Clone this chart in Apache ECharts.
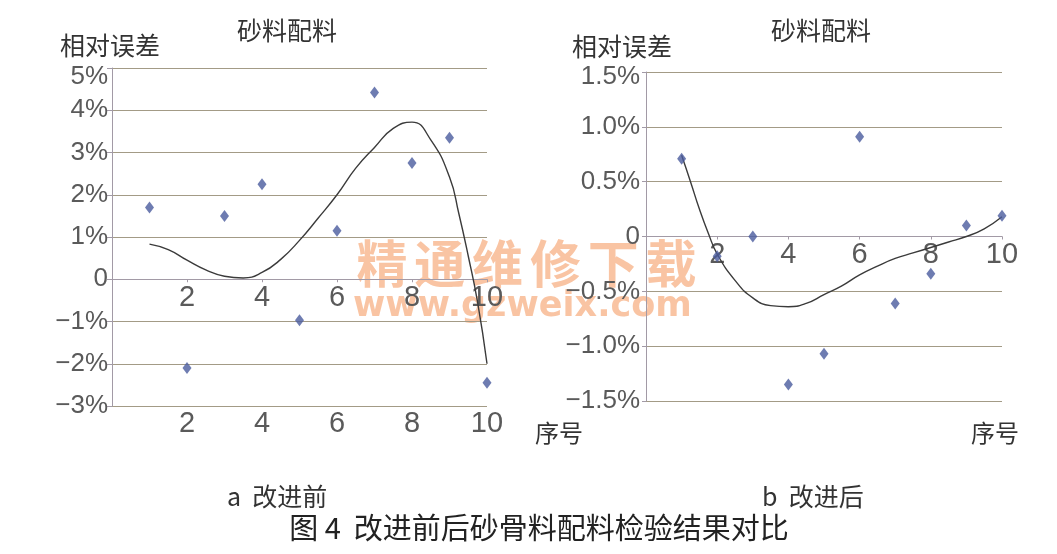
<!DOCTYPE html>
<html><head><meta charset="utf-8">
<script src="https://cdn.jsdelivr.net/npm/echarts@6/dist/echarts.min.js"></script>
<style>html,body{margin:0;padding:0;background:#fff}#c{width:1057px;height:554px}</style>
</head><body><div id="c"></div>
<script>
// ---- data ----
const seqNo = [1, 2, 3, 4, 5, 6, 7, 8, 9, 10];
const errBefore = [1.7, -2.1, 1.5, 2.25, -0.97, 1.15, 4.42, 2.75, 3.35, -2.45];   // %
const errAfter  = [0.71, -0.18, 0, -1.35, -1.07, 0.91, -0.61, -0.34, 0.10, 0.19]; // %
const trendBeforeX = [1, 1.5, 2, 2.5, 3, 3.5, 4, 4.5, 5, 5.5, 6, 6.5, 7, 7.5, 8, 8.5, 9, 9.25, 9.5, 9.75, 10];
const trendBeforeY = [0.83, 0.70, 0.45, 0.22, 0.07, 0.03, 0.16, 0.47, 0.92, 1.45, 2.0, 2.63, 3.12, 3.57, 3.72, 3.3, 2.42, 1.55, 0.55, -0.55, -2.0];
const trendAfterX = [1, 1.25, 1.5, 1.75, 2, 2.5, 3, 3.5, 4, 4.5, 5, 5.5, 6, 6.5, 7, 7.5, 8, 8.5, 9, 9.5, 10];
const trendAfterY = [0.74, 0.5, 0.25, 0.03, -0.16, -0.40, -0.56, -0.63, -0.64, -0.61, -0.53, -0.45, -0.35, -0.27, -0.20, -0.15, -0.10, -0.05, 0.0, 0.07, 0.18];
const xTickLabels = {0: '', 2: '2', 4: '4', 6: '6', 8: '8', 10: '10'};
const yTickLabelsA = {'-3': '−3%', '-2': '−2%', '-1': '−1%', '0': '0', '1': '1%', '2': '2%', '3': '3%', '4': '4%', '5': '5%'};
const yTickLabelsB = {'-1.5': '−1.5%', '-1': '−1.0%', '-0.5': '−0.5%', '0': '0', '0.5': '0.5%', '1': '1.0%', '1.5': '1.5%'};
const panelTitle = '砂料配料';
const yName = '相对误差';
const xName = '序号';
const subA = 'a  改进前';
const subB = 'b  改进后';
const caption = '图 4  改进前后砂骨料配料检验结果对比';
const watermark1 = ['精', '通', '维', '修', '下', '载'];
const watermark2 = 'www.gzweix.com';

const zip = (xs, ys) => xs.map((x, i) => [x, ys[i]]);
const FONT = '"Liberation Sans", Arial, "Noto Sans CJK SC", sans-serif';
const CJK = '"Noto Sans CJK SC", sans-serif';
const gridColor = '#a39b86';
const axisColor = '#a29aa6';
const labelColor = '#5a5a5a';
const xFmt = v => xTickLabels[v] !== undefined ? xTickLabels[v] : String(v);

function xAxisDef(grid, opts) {
  return Object.assign({
    gridIndex: grid, type: 'value', min: 0, max: 10, interval: 2, position: 'bottom',
    axisLine: { show: false, onZero: false },
    axisTick: { show: false },
    splitLine: { show: false },
    axisLabel: { fontSize: 29, color: labelColor, fontFamily: FONT, margin: 3, formatter: xFmt }
  }, opts);
}
const zeroAxis = grid => xAxisDef(grid, {
  axisLine: { show: true, onZero: false, lineStyle: { color: axisColor, width: 1 } },
  axisTick: { show: true, length: 3, lineStyle: { color: axisColor } },
  axisLabel: { fontSize: 29, color: labelColor, fontFamily: FONT, margin: 4, formatter: xFmt }
});
const hiddenY = grid => ({ gridIndex: grid, type: 'value', min: 0, max: 1, show: false });
const richTop = pad => ({ t: { padding: [pad, 0, 0, 0], fontSize: 26, color: labelColor, fontFamily: FONT } });

const chart = echarts.init(document.getElementById('c'), null, { renderer: 'canvas' });
chart.setOption({
  backgroundColor: '#ffffff',
  animation: false,
  grid: [
    { left: 112, right: 570, top: 68, bottom: 148 },
    { left: 646, right: 55, top: 72, bottom: 153 },
    // helper grids whose bottom edge sits on the zero line (same x scale)
    { left: 112, right: 570, top: 68, bottom: 274.75 },
    { left: 646, right: 55, top: 72, bottom: 317.5 }
  ],
  xAxis: [
    xAxisDef(0, {}),
    xAxisDef(1, { axisLabel: { show: false } }),
    zeroAxis(2),
    zeroAxis(3)
  ],
  yAxis: [
    { gridIndex: 0, type: 'value', min: -3, max: 5, interval: 1,
      axisLine: { show: true, onZero: false, lineStyle: { color: axisColor } },
      axisTick: { show: true, length: 5, lineStyle: { color: axisColor } },
      splitLine: { show: true, lineStyle: { color: gridColor, width: 1.2 } },
      axisLabel: { fontSize: 26, color: labelColor, fontFamily: FONT, margin: 4, rich: richTop(18),
        formatter: v => v === 5 ? '{t|' + yTickLabelsA['5'] + '}' : (yTickLabelsA[String(v)] || String(v)) } },
    { gridIndex: 1, type: 'value', min: -1.5, max: 1.5, interval: 0.5,
      axisLine: { show: true, onZero: false, lineStyle: { color: axisColor } },
      axisTick: { show: true, length: 4, lineStyle: { color: axisColor } },
      splitLine: { show: true, lineStyle: { color: gridColor, width: 1.2 } },
      axisLabel: { fontSize: 26, color: labelColor, fontFamily: FONT, margin: 6, rich: richTop(10),
        formatter: v => v === 1.5 ? '{t|' + yTickLabelsB['1.5'] + '}' : (yTickLabelsB[String(v)] || String(v)) } },
    hiddenY(2),
    hiddenY(3)
  ],
  series: [
    { type: 'line', xAxisIndex: 0, yAxisIndex: 0, data: zip(trendBeforeX, trendBeforeY),
      smooth: true, showSymbol: false, lineStyle: { color: '#3b3b3b', width: 1.4 }, z: 3 },
    { type: 'scatter', xAxisIndex: 0, yAxisIndex: 0, data: zip(seqNo, errBefore),
      symbol: 'diamond', symbolSize: [9, 12], itemStyle: { color: '#4a5b9e' }, z: 4 },
    { type: 'line', xAxisIndex: 1, yAxisIndex: 1, data: zip(trendAfterX, trendAfterY),
      smooth: true, showSymbol: false, lineStyle: { color: '#3b3b3b', width: 1.4 }, z: 3 },
    { type: 'scatter', xAxisIndex: 1, yAxisIndex: 1, data: zip(seqNo, errAfter),
      symbol: 'diamond', symbolSize: [9, 12], itemStyle: { color: '#4a5b9e' }, z: 4 }
  ],
  graphic: [].concat(
    watermark1.map((ch, i) => ({ type: 'text', z: -10, x: 382 + i * 57.8, y: 264,
      style: { text: ch, fontSize: 51, fontWeight: 'bold', fontFamily: CJK, fill: 'rgba(246,168,120,0.68)', align: 'center', verticalAlign: 'middle' } })),
    [
    { type: 'text', z: -10, x: 353, y: 307, style: { text: watermark2, fontSize: 35, fontWeight: 'bold', fontFamily: '"DejaVu Sans", sans-serif', fill: 'rgba(246,168,120,0.68)', verticalAlign: 'middle' } },
    { type: 'text', x: 60, y: 45, style: { text: yName, fontSize: 25, fontFamily: CJK, fill: '#333', verticalAlign: 'middle' } },
    { type: 'text', x: 287, y: 30, style: { text: panelTitle, fontSize: 25, fontFamily: CJK, fill: '#333', align: 'center', verticalAlign: 'middle' } },
    { type: 'text', x: 572, y: 46, style: { text: yName, fontSize: 25, fontFamily: CJK, fill: '#333', verticalAlign: 'middle' } },
    { type: 'text', x: 821, y: 30, style: { text: panelTitle, fontSize: 25, fontFamily: CJK, fill: '#333', align: 'center', verticalAlign: 'middle' } },
    { type: 'text', x: 559, y: 433, style: { text: xName, fontSize: 24, fontFamily: CJK, fill: '#333', align: 'center', verticalAlign: 'middle' } },
    { type: 'text', x: 995, y: 433, style: { text: xName, fontSize: 24, fontFamily: CJK, fill: '#333', align: 'center', verticalAlign: 'middle' } },
    { type: 'text', x: 227, y: 496, style: { text: subA, fontSize: 25, fontFamily: CJK, fill: '#333', verticalAlign: 'middle' } },
    { type: 'text', x: 762, y: 496, style: { text: subB, fontSize: 25, fontFamily: CJK, fill: '#333', verticalAlign: 'middle' } },
    { type: 'text', x: 539, y: 528, style: { text: caption, fontSize: 29, fontFamily: CJK, fill: '#222', align: 'center', verticalAlign: 'middle' } }
  ])
});
</script></body></html>
